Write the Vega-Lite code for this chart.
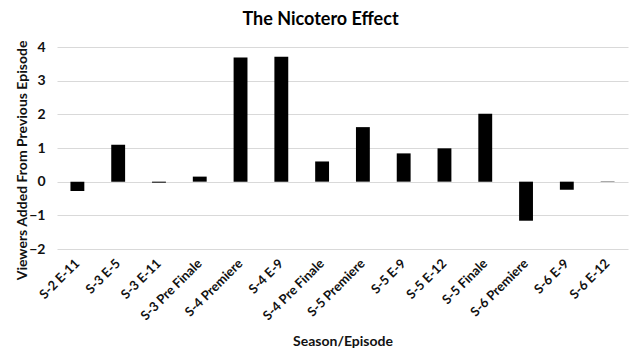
{
  "$schema": "https://vega.github.io/schema/vega-lite/v6.json",
  "autosize": "none",
  "width": 571,
  "height": 202,
  "padding": {"left": 57, "top": 47, "right": 12, "bottom": 109},
  "background": "white",
  "title": {"text": "The Nicotero Effect", "fontSize": 18, "font": "Lato", "fontWeight": "bold", "color": "#000000", "anchor": "middle", "frame": "group", "dx": -22, "offset": 11},
  "config": {
    "view": {"stroke": null},
    "font": "Lato",
    "axis": {"labelFont": "Lato", "titleFont": "Lato", "labelFontWeight": "bold", "titleFontWeight": "bold", "labelColor": "#111111", "titleColor": "#111111", "labelFontSize": 13, "titleFontSize": 14}
  },
  "data": {"values": [
    {"episode": "S-2 E-11", "viewers": -0.28},
    {"episode": "S-3 E-5", "viewers": 1.1},
    {"episode": "S-3 E-11", "viewers": -0.03},
    {"episode": "S-3 Pre Finale", "viewers": 0.15},
    {"episode": "S-4 Premiere", "viewers": 3.69},
    {"episode": "S-4 E-9", "viewers": 3.71},
    {"episode": "S-4 Pre Finale", "viewers": 0.6},
    {"episode": "S-5 Premiere", "viewers": 1.62},
    {"episode": "S-5 E-9", "viewers": 0.84},
    {"episode": "S-5 E-12", "viewers": 0.99},
    {"episode": "S-5 Finale", "viewers": 2.02},
    {"episode": "S-6 Premiere", "viewers": -1.16},
    {"episode": "S-6 E-9", "viewers": -0.24},
    {"episode": "S-6 E-12", "viewers": 0.01}
  ]},
  "mark": {"type": "bar", "color": "#000000"},
  "encoding": {
    "x": {
      "field": "episode", "type": "nominal", "sort": null,
      "scale": {"paddingInner": 0.66, "paddingOuter": 0.33},
      "axis": {"title": "Season/Episode", "labelAngle": -45, "labelAlign": "right", "labelBaseline": "middle", "labelPadding": 12, "ticks": false, "domain": false, "titlePadding": 12}
    },
    "y": {
      "field": "viewers", "type": "quantitative",
      "scale": {"domain": [-2, 4], "nice": false, "zero": false},
      "axis": {"title": "Viewers Added From Previous Episode", "values": [-2, -1, 0, 1, 2, 3, 4], "format": "d", "ticks": false, "domain": false, "labelPadding": 12, "gridColor": "#d9d9d9", "gridWidth": 1, "titleX": -35, "titleY": 113, "titleAngle": 270, "titleAlign": "center", "titleBaseline": "middle", "labelFontSize": 14}
    }
  }
}
